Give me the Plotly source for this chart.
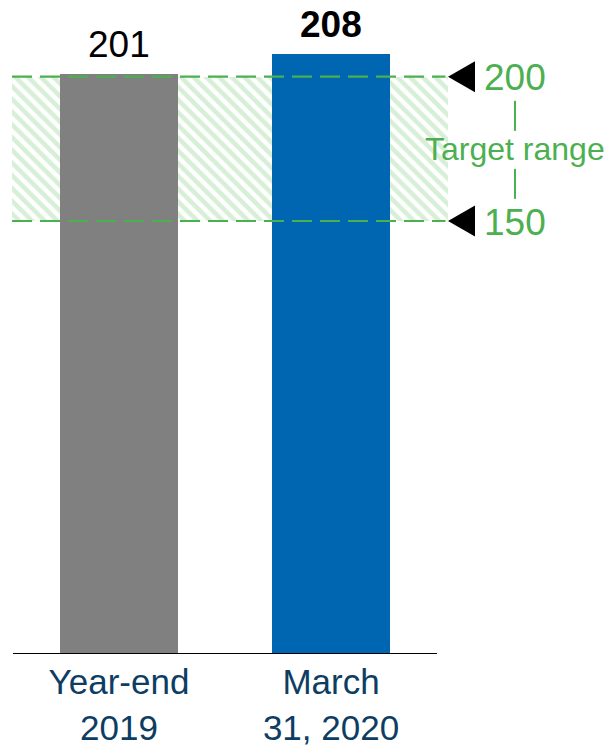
import plotly.graph_objects as go

# Leverage ratio: year-end vs. latest quarter, against the target band
categories = ["Year-end<br>2019", "March<br>31, 2020"]
values = [201, 208]
bar_colors = ["#808080", "#0066B2"]
bold_label = [False, True]
target_low = 150
target_high = 200
target_caption = "Target range"

GREEN = "#4CAF50"
LABEL_BLUE = "#0E3D63"
FONT = "Liberation Sans, Arial, sans-serif"

positions = list(range(len(categories)))
x_min, x_max = -0.5047, 1.5519
caption_x = 1.1537  # paper x of the right-hand caption column

fig = go.Figure()

# hatched target band, spanning the full plot width behind the bars
fig.add_trace(go.Bar(
    x=[(x_min + x_max) / 2], y=[target_high - target_low], base=[target_low],
    width=[x_max - x_min],
    marker=dict(color="white", line=dict(width=0),
                pattern=dict(shape="\\", fgcolor="#D6EFD6", bgcolor="white",
                             size=9, solidity=0.5, fillmode="replace")),
    hoverinfo="skip", showlegend=False,
))

fig.add_trace(go.Bar(
    x=positions, y=values, width=0.5566,
    marker=dict(color=bar_colors, line=dict(width=0)),
    showlegend=False,
))

# value labels above each bar
for xp, v, b in zip(positions, values, bold_label):
    fig.add_annotation(
        x=xp, y=v, xref="x", yref="y", yanchor="bottom", yshift=7,
        text=f"<b>{v}</b>" if b else str(v), showarrow=False,
        font=dict(family=FONT, size=37, color="black"),
    )

# dashed bounds of the target band
for yv in (target_high, target_low):
    fig.add_shape(type="line", xref="x", yref="y", x0=x_min, x1=x_max - 0.012,
                  y0=yv, y1=yv, layer="above",
                  line=dict(color=GREEN, width=2.2, dash="20px,8px"))
    # pointer triangle
    fig.add_shape(type="path", xref="paper", yref="y",
                  xsizemode="pixel", ysizemode="pixel",
                  xanchor=1.0, yanchor=yv,
                  path="M0,0 L27,15.5 L27,-15.5 Z",
                  fillcolor="black", line=dict(width=0))
    fig.add_annotation(x=caption_x, y=yv, xref="paper", yref="y",
                       xanchor="center", yanchor="middle",
                       text=str(yv), showarrow=False, yshift=-1,
                       font=dict(family=FONT, size=37, color=GREEN))

mid = (target_low + target_high) / 2
fig.add_annotation(x=caption_x, y=mid, xref="paper", yref="y",
                   xanchor="center", yanchor="middle",
                   text=target_caption, showarrow=False,
                   font=dict(family=FONT, size=32, color=GREEN))
for a, b in ((18, 48), (-20, -50)):
    fig.add_shape(type="line", xref="paper", yref="y",
                  x0=caption_x, x1=caption_x, ysizemode="pixel", yanchor=mid,
                  y0=a, y1=b, line=dict(color=GREEN, width=2))

# baseline
fig.add_shape(type="line", xref="x", yref="y", x0=-0.5, x1=1.5, y0=0, y1=0,
              layer="above", line=dict(color="black", width=2))

fig.update_layout(
    width=608, height=750,
    margin=dict(l=12, r=160, t=10, b=96),
    paper_bgcolor="white", plot_bgcolor="white",
    barmode="overlay", bargap=0,
    xaxis=dict(range=[x_min, x_max], tickvals=positions, ticktext=categories,
               showgrid=False, zeroline=False, showline=False, ticks="",
               automargin=False,
               tickfont=dict(family=FONT, size=35, color=LABEL_BLUE),
               ticklabelstandoff=4),
    yaxis=dict(range=[0, 223.1], visible=False, showgrid=False,
               automargin=False),
    font=dict(family=FONT),
)

fig.write_html("out.html")
